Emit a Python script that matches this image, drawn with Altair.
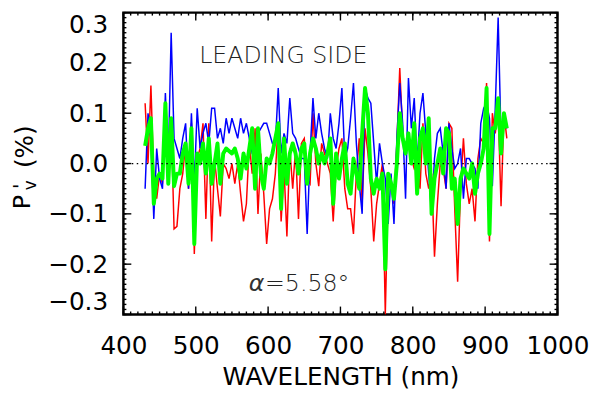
import altair as alt
import pandas as pd

# ---------------- data ----------------
wavelength = [
    430, 434, 438, 442, 446, 450, 454, 458, 462, 466,
    470, 474, 478, 482, 486, 490, 494, 498, 502, 506,
    510, 514, 518, 522, 526, 530, 534, 538, 542, 546,
    550, 554, 558, 562, 566, 570, 574, 578, 582, 586,
    590, 594, 598, 602, 606, 610, 614, 618, 622, 626,
    630, 634, 638, 642, 646, 650, 654, 658, 662, 666,
    670, 674, 678, 682, 686, 690, 694, 698, 702, 706,
    710, 714, 718, 722, 726, 730, 734, 738, 742, 746,
    750, 754, 758, 762, 766, 770, 774, 778, 782, 786,
    790, 794, 798, 802, 806, 810, 814, 818, 822, 826,
    830, 834, 838, 842, 846, 850, 854, 858, 862, 866,
    870, 874, 878, 882, 886, 890, 894, 898, 902, 906,
    910, 914, 918, 922, 926, 930,
]

pv_blue = [
    -0.05, 0.10, 0.05, -0.11, 0.03, -0.03, -0.05, 0.14, 0.00, 0.26,
    0.05, 0.03, 0.01, 0.05, 0.08, -0.05, 0.10, -0.04, 0.11, 0.03,
    0.06, 0.08, 0.04, 0.11, 0.11, 0.05, 0.07, 0.04, 0.09, 0.06,
    0.09, 0.07, 0.05, 0.09, 0.06, 0.08, 0.05, 0.02, 0.01, 0.06,
    0.07, 0.08, 0.08, 0.06, 0.04, 0.04, 0.15, 0.02, 0.06, 0.04,
    0.13, 0.06, 0.05, 0.03, 0.01, 0.01, -0.14, 0.02, 0.13, 0.05,
    0.10, 0.06, 0.03, 0.01, 0.10, 0.05, 0.03, 0.08, 0.15, 0.01,
    0.03, 0.09, 0.16, 0.04, -0.04, -0.10, 0.15, 0.13, 0.12, 0.04,
    -0.04, 0.04, 0.00, -0.03, -0.12, -0.02, -0.12, 0.05, 0.16, 0.08,
    -0.07, 0.17, 0.07, 0.13, 0.00, 0.10, 0.14, 0.06, -0.02, -0.10,
    0.01, 0.06, 0.07, 0.02, -0.05, 0.08, 0.03, -0.01, 0.00, 0.03,
    -0.07, 0.01, 0.01, 0.00, -0.01, -0.05, 0.08, 0.11, 0.12, 0.09,
    -0.045, 0.11, 0.29, 0.05, 0.10, 0.07,
]

pv_red = [
    0.12, 0.00, 0.155, -0.03, -0.07, -0.02, -0.04, 0.11, 0.03, 0.09,
    -0.13, -0.125, -0.05, -0.02, 0.04, -0.05, 0.08, -0.18, 0.01, 0.03,
    0.08, -0.11, 0.08, -0.155, 0.01, -0.05, -0.105, 0.00, -0.01, -0.03,
    0.00, -0.04, 0.00, -0.06, -0.115, -0.08, 0.04, -0.02, 0.07, -0.10,
    0.02, -0.06, -0.16, -0.09, -0.07, -0.02, 0.08, -0.115, -0.01, -0.145,
    0.03, -0.05, 0.03, -0.11, 0.04, 0.05, -0.03, -0.04, 0.10, 0.00,
    -0.045, 0.04, 0.02, 0.00, -0.02, -0.115, -0.01, 0.03, 0.05, -0.05,
    -0.09, -0.09, -0.14, -0.02, 0.05, -0.08, 0.07, 0.02, -0.05, -0.155,
    -0.08, -0.04, 0.00, -0.30, -0.05, -0.04, -0.08, 0.04, 0.19, 0.06,
    0.02, 0.04, 0.01, -0.01, 0.00, -0.05, 0.08, -0.02, -0.05, -0.02,
    -0.185, -0.08, 0.00, -0.01, -0.05, 0.08, 0.07, -0.09, -0.235, -0.05,
    0.05, -0.04, -0.08, -0.05, -0.115, 0.01, 0.05, 0.04, 0.16, -0.155,
    0.10, 0.06, 0.11, -0.085, 0.10, 0.05,
]

pv_green = [
    0.035, 0.07, 0.09, -0.08, -0.03, -0.02, -0.03, 0.12, -0.04, 0.09,
    -0.045, -0.02, -0.02, 0.02, 0.04, -0.04, 0.07, -0.16, 0.02, 0.00,
    0.04, -0.02, 0.05, -0.04, 0.00, 0.04, -0.04, 0.02, 0.03, 0.025,
    0.02, 0.03, 0.01, -0.03, 0.02, -0.01, 0.03, 0.07, -0.05, 0.07,
    -0.02, -0.05, 0.01, 0.00, 0.02, 0.05, 0.08, -0.09, 0.05, -0.04,
    0.02, 0.04, 0.02, -0.02, 0.03, 0.04, -0.04, 0.02, 0.05, 0.03,
    0.00, 0.02, 0.00, 0.02, 0.05, -0.08, 0.02, -0.03, 0.01, 0.04,
    -0.04, -0.06, 0.01, -0.02, -0.05, 0.06, 0.15, 0.10, -0.03, -0.06,
    -0.03, -0.05, -0.02, -0.21, -0.02, -0.04, -0.07, 0.00, 0.10, 0.05,
    0.02, 0.06, 0.00, 0.08, -0.06, 0.05, 0.07, 0.00, 0.09, -0.10,
    -0.03, 0.00, 0.03, -0.02, 0.07, 0.06, -0.05, -0.03, -0.12, -0.03,
    -0.01, -0.02, -0.03, 0.00, -0.06, -0.02, 0.00, 0.03, 0.15, -0.14,
    0.07, 0.07, 0.13, 0.02, 0.10, 0.07,
]

x_major = [400, 500, 600, 700, 800, 900, 1000]
y_major = [-0.3, -0.2, -0.1, 0.0, 0.1, 0.2, 0.3]
x_minor = [400 + 10 * i for i in range(61)]
y_minor = [round(-0.3 + 0.01 * i, 2) for i in range(61)]

x_title = "WAVELENGTH (nm)"
note_text = ["LEADING SIDE", "=5.58°"]
note_x = [621, 654]
note_y = [0.214, -0.24]
alpha_text = ["α"]
alpha_x = [584]
alpha_y = [-0.24]

# y-axis title pieces: P, subscript v, prime, (%)
ytitle_text = ["P", "v", "'", "(%)"]

# ---------------- chart ----------------
FONT = "DejaVu Sans"
W, H = 440, 306
MAJ, MIN = 8, 3

df = pd.DataFrame({"wl": wavelength, "blue": pv_blue, "red": pv_red, "green": pv_green})
zero_df = pd.DataFrame({"zero": [0.0]})
note_df = pd.DataFrame({"x": note_x, "y": note_y, "t": note_text})
alpha_df = pd.DataFrame({"x": alpha_x, "y": alpha_y, "t": alpha_text})
xmaj_df = pd.DataFrame({"v": x_major})
xmin_df = pd.DataFrame({"v": x_minor})
ymaj_df = pd.DataFrame({"v": y_major})
ymin_df = pd.DataFrame({"v": y_minor})

xs = alt.Scale(domain=[400, 1000], nice=False, zero=False)
ys = alt.Scale(domain=[-0.3, 0.3], nice=False, zero=False)

label_x_axis = alt.Axis(orient="bottom", values=x_major, format="d", ticks=False,
                        tickSize=0, domain=False, grid=False, labelFont=FONT,
                        labelFontSize=25, labelColor="black", labelPadding=20,
                        labelFlush=False, labelOverlap=False, title=x_title,
                        titleFont=FONT, titleFontSize=25, titleFontWeight="normal",
                        titleColor="black", titlePadding=6)
label_y_axis = alt.Axis(orient="left", values=y_major, format=".1f", ticks=False,
                        tickSize=0, domain=False, grid=False, labelFont=FONT,
                        labelFontSize=25, labelColor="black", labelPadding=16,
                        labelFlush=True, labelOverlap=False, title="")

red = alt.Chart(df).mark_line(color="#ff0000", strokeWidth=1.5, clip=True).encode(
    x=alt.X("wl:Q", scale=xs, axis=label_x_axis),
    y=alt.Y("red:Q", scale=ys, axis=label_y_axis),
)
blue = alt.Chart(df).mark_line(color="#0000ff", strokeWidth=1.5, clip=True).encode(
    x=alt.X("wl:Q", scale=xs, axis=None),
    y=alt.Y("blue:Q", scale=ys, axis=None),
)
green = alt.Chart(df).mark_line(color="#00ff00", strokeWidth=4, clip=True,
                                strokeJoin="round").encode(
    x=alt.X("wl:Q", scale=xs, axis=None),
    y=alt.Y("green:Q", scale=ys, axis=None),
)
zero_line = alt.Chart(zero_df).mark_rule(color="black", strokeWidth=1.2,
                                         strokeDash=[1.5, 3.5]).encode(
    y=alt.Y("zero:Q", scale=ys, axis=None),
)


def xticks(frame, y0, y1):
    return alt.Chart(frame).mark_rule(color="black", strokeWidth=1.4).encode(
        x=alt.X("v:Q", scale=xs, axis=None), y=alt.value(y0), y2=alt.value(y1))


def yticks(frame, x0, x1):
    return alt.Chart(frame).mark_rule(color="black", strokeWidth=1.4).encode(
        y=alt.Y("v:Q", scale=ys, axis=None), x=alt.value(x0), x2=alt.value(x1))


tick_layers = [xticks(xmaj_df, H, H - MAJ), xticks(xmaj_df, 0, MAJ),
               xticks(xmin_df, H, H - MIN), xticks(xmin_df, 0, MIN),
               yticks(ymaj_df, 0, MAJ), yticks(ymaj_df, W, W - MAJ),
               yticks(ymin_df, 0, MIN), yticks(ymin_df, W, W - MIN)]

notes = alt.Chart(note_df).mark_text(font=FONT, fontSize=24, fontWeight=200,
                                     color="#222222", baseline="middle",
                                     align="center").encode(
    x=alt.X("x:Q", scale=xs, axis=None),
    y=alt.Y("y:Q", scale=ys, axis=None),
    text="t:N",
)
alpha = alt.Chart(alpha_df).mark_text(font=FONT, fontSize=24, fontWeight=200,
                                      fontStyle="italic", color="#333333",
                                      baseline="middle", align="center").encode(
    x=alt.X("x:Q", scale=xs, axis=None),
    y=alt.Y("y:Q", scale=ys, axis=None),
    text="t:N",
)


def ytitle_piece(i, px, py, size):
    return alt.Chart(pd.DataFrame({"t": [ytitle_text[i]]})).mark_text(
        font=FONT, fontSize=size, angle=270, align="center",
        baseline="alphabetic", color="black").encode(
        x=alt.value(px), y=alt.value(py), text="t:N")


ytitle_layers = [ytitle_piece(0, -95, 192, 24), ytitle_piece(1, -89, 175, 17),
                 ytitle_piece(2, -98, 176, 20), ytitle_piece(3, -92, 136, 25)]

chart = alt.layer(
    red, blue, green, zero_line, *tick_layers, notes, alpha, *ytitle_layers
).resolve_axis(x="independent", y="independent").properties(
    width=W, height=H,
    autosize=alt.AutoSizeParams(type="none"),
    padding={"left": 117, "top": 2, "right": 35, "bottom": 82},
).configure_view(stroke="black", strokeWidth=2.5)

chart.save("out.html", embed_options={"renderer": "svg", "actions": False})
